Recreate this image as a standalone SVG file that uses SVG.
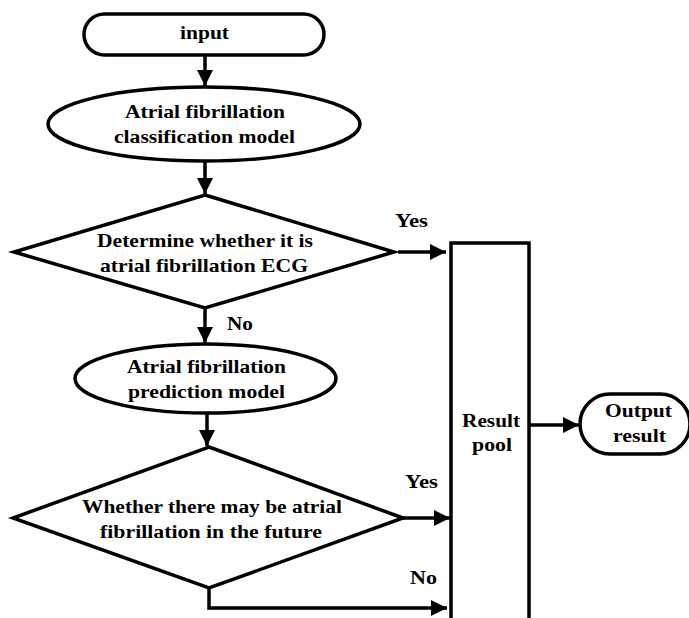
<svg xmlns="http://www.w3.org/2000/svg" width="689" height="618" viewBox="0 0 689 618">
<defs>
<marker id="ah" markerUnits="userSpaceOnUse" markerWidth="16" markerHeight="16" refX="16" refY="8" orient="auto">
<path d="M0,0 L16,8 L0,16 z" fill="#000"/>
</marker>
<style>
.s{fill:#fff;stroke:#000;stroke-width:3.5}
.c{fill:none;stroke:#000;stroke-width:3.5}
text{font-family:"Liberation Serif","Times New Roman",serif;font-weight:bold;font-size:19px;fill:#000}
.m{text-anchor:middle}
</style>
</defs>
<rect width="689" height="618" fill="#fff"/>
<g id="connectors">
<line class="c" x1="205" y1="55" x2="205" y2="86" marker-end="url(#ah)"/>
<line class="c" x1="205" y1="161" x2="205" y2="194" marker-end="url(#ah)"/>
<line class="c" x1="398" y1="252" x2="446" y2="252" marker-end="url(#ah)"/>
<line class="c" x1="205" y1="308" x2="205" y2="343" marker-end="url(#ah)"/>
<line class="c" x1="207" y1="413" x2="207" y2="446" marker-end="url(#ah)"/>
<line class="c" x1="403" y1="518" x2="450" y2="518" marker-end="url(#ah)"/>
<polyline class="c" points="209,588 209,608 447,608" marker-end="url(#ah)"/>
<line class="c" x1="529" y1="425" x2="579" y2="425" marker-end="url(#ah)"/>
<text x="395" y="227" textLength="33" lengthAdjust="spacingAndGlyphs">Yes</text>
<text x="227" y="330" textLength="26" lengthAdjust="spacingAndGlyphs">No</text>
<text x="405" y="488" textLength="33" lengthAdjust="spacingAndGlyphs">Yes</text>
<text x="410" y="584" textLength="27" lengthAdjust="spacingAndGlyphs">No</text>
</g>
<g id="input">
<rect class="s" x="84" y="14" width="240" height="41" rx="20.5"/>
<text class="m" x="204.5" y="39" textLength="49" lengthAdjust="spacingAndGlyphs">input</text>
</g>
<g id="classification">
<ellipse class="s" cx="204" cy="124" rx="156" ry="37"/>
<text class="m" x="205" y="118" textLength="160" lengthAdjust="spacingAndGlyphs">Atrial fibrillation</text>
<text class="m" x="204.5" y="143" textLength="181" lengthAdjust="spacingAndGlyphs">classification model</text>
</g>
<g id="decision1">
<polygon class="s" points="205,195 394,252 205,308 14,252"/>
<text class="m" x="205" y="247" textLength="216" lengthAdjust="spacingAndGlyphs">Determine whether it is</text>
<text class="m" x="204" y="272" textLength="208" lengthAdjust="spacingAndGlyphs">atrial fibrillation ECG</text>
</g>
<g id="prediction">
<ellipse class="s" cx="205.5" cy="378.5" rx="130.5" ry="34.5"/>
<text class="m" x="206.5" y="373" textLength="159" lengthAdjust="spacingAndGlyphs">Atrial fibrillation</text>
<text class="m" x="206.5" y="398" textLength="157" lengthAdjust="spacingAndGlyphs">prediction model</text>
</g>
<g id="decision2">
<polygon class="s" points="209,447 403,518 209,588 13,518"/>
<text class="m" x="212" y="513" textLength="260" lengthAdjust="spacingAndGlyphs">Whether there may be atrial</text>
<text class="m" x="211" y="538" textLength="222" lengthAdjust="spacingAndGlyphs">fibrillation in the future</text>
</g>
<g id="resultpool">
<rect class="s" x="451" y="243" width="78" height="390"/>
<text class="m" x="491" y="427" textLength="58" lengthAdjust="spacingAndGlyphs">Result</text>
<text class="m" x="492" y="451" textLength="40" lengthAdjust="spacingAndGlyphs">pool</text>
</g>
<g id="output">
<rect class="s" x="580" y="394" width="110" height="60" rx="30"/>
<text class="m" x="638.5" y="417" textLength="67" lengthAdjust="spacingAndGlyphs">Output</text>
<text class="m" x="639.5" y="442" textLength="53" lengthAdjust="spacingAndGlyphs">result</text>
</g>
</svg>
